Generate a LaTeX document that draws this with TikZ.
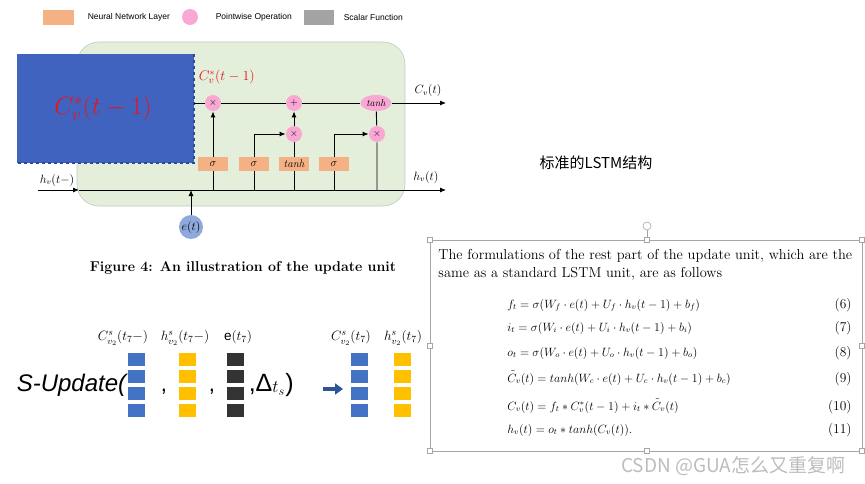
\RequirePackage{fix-cm}
\documentclass[tikz,border=0pt]{standalone}
\usepackage{fontspec}
\newfontfamily\cjkfont{Noto Sans CJK SC}
\newfontfamily\arialfont{Liberation Sans}
\usepackage{xcolor}
\definecolor{NNOrange}{HTML}{F4B183}
\definecolor{PWPink}{HTML}{F9A8D4}
\definecolor{ScalarGray}{HTML}{A3A3A3}
\definecolor{CellGreen}{HTML}{E3EFDB}
\definecolor{CellLine}{HTML}{C4C9C0}
\definecolor{BigBlue}{HTML}{3F63BF}
\definecolor{BlueDash}{HTML}{2A4A9A}
\definecolor{CRed}{HTML}{E8141E}
\definecolor{EBlue}{HTML}{8EA9DB}
\definecolor{VecBlue}{HTML}{4472C4}
\definecolor{VecGold}{HTML}{FFC000}
\definecolor{VecDark}{HTML}{333333}
\definecolor{VecArrow}{HTML}{2E5597}
\definecolor{BoxGray}{HTML}{A6A6A6}
\definecolor{WmGray}{HTML}{BDBDBD}
\usepackage{tikz}
\usetikzlibrary{shapes.geometric, arrows.meta, positioning, calc}

\begin{document}
\begin{tikzpicture}[x=1pt, y=-1pt, line width=0.9pt,
  arr/.style={-{Latex[length=6pt,width=5pt]}},
  layer/.style={fill=NNOrange, minimum width=30pt, minimum height=14pt, inner sep=0pt, font=\fontsize{11}{13}\selectfont},
  pw/.style={circle, fill=PWPink, minimum size=16pt, inner sep=0pt, font=\fontsize{10}{12}\selectfont},
  lbl/.style={font=\fontsize{12}{14}\selectfont},
  veclbl/.style={font=\fontsize{13.5}{15}\selectfont, inner sep=1pt},
  legtxt/.style={anchor=west, font=\arialfont\fontsize{8.5}{10}\selectfont}]
  \useasboundingbox (0,0) rectangle (865,484);
  \fill[white] (0,0) rectangle (865,484);

  % Legend (top)
  \fill[NNOrange] (43,10) rectangle (74,25);
  \node[legtxt] (lgnn) at (84,17.5) {Neural Network Layer};
  \fill[PWPink] (190,17) circle (8);
  \node[legtxt] (lgpw) at (212,17.5) {Pointwise Operation};
  \fill[ScalarGray] (304,10) rectangle (334,25);
  \node[legtxt] (lgsc) at (340,17.5) {Scalar Function};

  % Cell body and covered cell state
  \draw[CellLine, fill=CellGreen, line width=0.6pt, rounded corners=22pt] (77,42) rectangle (405,206);
  \fill[BigBlue] (17,54) rectangle (194,163);
  \draw[BlueDash, dashed, line width=1.2pt] (194,54) -- (194,163) -- (17,163);
  \node[font=\fontsize{25}{30}\selectfont, text=CRed] (cbig) at (103,108) {$C_v^*(t-1)$};
  \node[anchor=west, font=\fontsize{14}{16}\selectfont, text=CRed] (cred) at (195,77) {$C_v^*(t-1)$};

  % Pointwise operations
  \node[pw] (mf) at (213,103) {$\times$};
  \node[pw] (add) at (294,103) {$+$};
  \node[pw, ellipse, minimum width=31pt, minimum height=16pt] (tanhc) at (376,103) {\itshape tanh};
  \node[pw] (mi) at (294,134) {$\times$};
  \node[pw] (mo) at (377,134) {$\times$};

  % Network layers
  \node[layer] (sf) at (213,164) {$\sigma$};
  \node[layer] (si) at (254,164) {$\sigma$};
  \node[layer] (tg) at (294,164) {\itshape tanh};
  \node[layer] (so) at (334,164) {$\sigma$};

  \coordinate (cin) at (194,103);
  \coordinate (cout) at (446,103);
  \coordinate (hin) at (38,190);
  \coordinate (hmid) at (79,190);
  \coordinate (hout) at (446,190);
  \node[circle, fill=EBlue, minimum size=24pt, inner sep=0pt, lbl] (et) at (191,227) {$e(t)$};

  % Connectors
  \draw (cin) -- (mf) -- (add) -- (tanhc);
  \draw[arr] (tanhc) -- (cout);
  \draw[arr] (hin) -- (hmid);
  \draw[arr] (hmid) -- (hout);
  \draw (sf |- hin) -- (sf);
  \draw[arr] (sf) -- (mf);
  \draw (si |- hin) -- (si);
  \draw[arr] (si) |- (mi);
  \draw (tg |- hin) -- (tg) -- (mi);
  \draw[arr] (mi) -- (add);
  \draw (so |- hin) -- (so);
  \draw[arr] (so) |- (mo);
  \draw (mo |- hin) -- (mo) -- (tanhc);
  \draw[arr] (et) -- (et |- hin);

  \node[lbl] (lcv) at (428,91) {$C_v(t)$};
  \node[lbl] (lhout) at (426,177) {$h_v(t)$};
  \node[lbl] (lhin) at (57,180) {$h_v(t-)$};

  % Caption and side note
  \node[font=\bfseries\fontsize{14.2}{16}\selectfont] (cap) at (243,268) {Figure 4: An illustration of the update unit};
  \node[font=\cjkfont\fontsize{15}{17}\selectfont] (std) at (596,163) {标准的LSTM结构};

  % S-Update call (bottom left)
  \node[anchor=base west, font=\arialfont\itshape\fontsize{24}{28}\selectfont] (supd) at (13,391) {S-Update(};
  \foreach \x/\c in {128/VecBlue, 179/VecGold, 227/VecDark, 351/VecBlue, 394/VecGold} {
    \foreach \r in {0,...,3} {
      \fill[\c] (\x, 353+17*\r) rectangle ++(17,12.5);
    }
  }
  \node[anchor=base, font=\arialfont\fontsize{22}{26}\selectfont] (comma1) at (164,391) {,};
  \node[anchor=base, font=\arialfont\fontsize{22}{26}\selectfont] (comma2) at (212,391) {,};
  \node[anchor=base west, font=\arialfont\fontsize{25}{28}\selectfont] (delta) at (245,391) {,Δ\raisebox{2pt}{$_{t_s}$})};
  \coordinate (arrs) at (323,389);
  \coordinate (arre) at (343,389);
  \draw[-{Triangle[length=8pt,width=11pt]}, VecArrow, line width=4pt] (arrs) -- (arre);
  \node[veclbl] (lcin) at (123,338) {$C^s_{v_2}(t_7-)$};
  \node[veclbl] (lhin2) at (185,338) {$h^s_{v_2}(t_7-)$};
  \node[veclbl] (lein) at (238,337) {\arialfont e$(t_7)$};
  \node[veclbl] (lcout) at (351,338) {$C^s_{v_2}(t_7)$};
  \node[veclbl] (lhout2) at (403,338) {$h^s_{v_2}(t_7)$};

  % Formula box with its handles
  \fill[white] (430,240) rectangle (862,451);
  \draw[BoxGray, line width=0.6pt] (430,240) rectangle (862,451);
  \draw[BoxGray, line width=0.6pt] (647,240) -- (647,230);
  \draw[BoxGray, fill=white, line width=0.6pt] (647,226) circle (4);
  \foreach \hx/\hy in {430/240, 647/240, 862/240, 430/345.5, 862/345.5, 430/451, 647/451, 862/451} {
    \draw[BoxGray, fill=white, line width=0.5pt] (\hx-2.5,\hy-2.5) rectangle ++(5,5);
  }
  \node[anchor=base west, font=\fontsize{14.4}{16}\selectfont, inner sep=0pt] (para1) at (438,259) {The formulations of the rest part of the update unit, which are the};
  \node[anchor=base west, font=\fontsize{14.4}{16}\selectfont, inner sep=0pt] (para2) at (438,277) {same as a standard LSTM unit, are as follows};
  \foreach \y/\eq/\n in {
    308/{f_t = \sigma(W_f\cdot e(t) + U_f\cdot h_v(t-1) + b_f)}/6,
    331/{i_t = \sigma(W_i\cdot e(t) + U_i\cdot h_v(t-1) + b_i)}/7,
    356/{o_t = \sigma(W_o\cdot e(t) + U_o\cdot h_v(t-1) + b_o)}/8,
    382/{\tilde{C}_v(t) = tanh(W_c\cdot e(t) + U_c\cdot h_v(t-1) + b_c)}/9,
    410/{C_v(t) = f_t * C_v^*(t-1) + i_t * \tilde{C}_v(t)}/10,
    433/{h_v(t) = o_t * tanh(C_v(t)).}/11} {
    \node[anchor=base west, font=\fontsize{12}{13}\selectfont, inner sep=0pt] (eq\n) at (507,\y) {$\eq$};
    \node[anchor=base east, font=\fontsize{13.5}{15}\selectfont, inner sep=0pt] (num\n) at (852,\y) {(\n)};
  }

  % Watermark
  \node[anchor=base east, font=\cjkfont\fontsize{19}{21}\selectfont, text=WmGray] (wm) at (849,472) {CSDN @GUA怎么又重复啊};
\end{tikzpicture}
\end{document}
